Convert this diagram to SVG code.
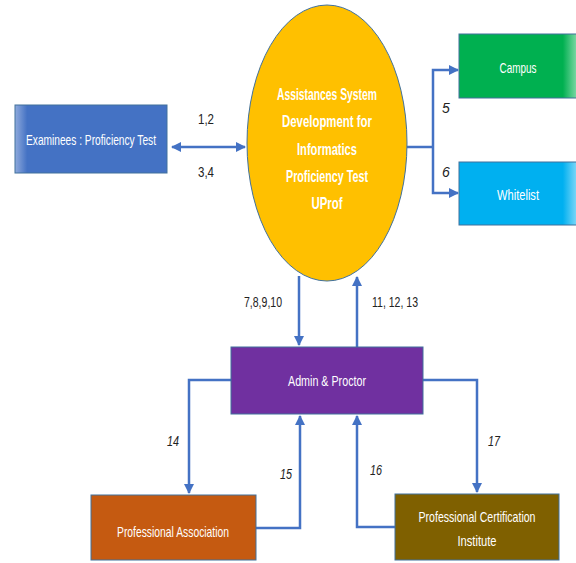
<svg xmlns="http://www.w3.org/2000/svg" width="576" height="563" viewBox="0 0 576 563">
<style>
.lbl{font-family:"Liberation Sans",Arial,sans-serif;font-size:15px;fill:#ffffff;text-anchor:middle}
.ttl{font-family:"Liberation Sans",Arial,sans-serif;font-size:17px;font-weight:bold;fill:#ffffff;text-anchor:middle}
.num{font-family:"Liberation Sans",Arial,sans-serif;font-size:14px;fill:#222222;text-anchor:middle}
.it{font-style:italic}
.con{fill:none;stroke:#4472C4;stroke-width:2.5}
.box{stroke:#41719C;stroke-width:1}
</style>
<defs>
<marker id="ah" viewBox="0 0 10 10" refX="9" refY="5" markerWidth="4" markerHeight="4" orient="auto-start-reverse" markerUnits="strokeWidth">
<path d="M0,0 L10,5 L0,10 z" fill="#4472C4"/>
</marker>
<linearGradient id="gBlue" x1="0" x2="1" y1="0" y2="0">
<stop offset="0" stop-color="#8FAADC"/><stop offset="0.08" stop-color="#4472C4"/><stop offset="1" stop-color="#4472C4"/>
</linearGradient>
<linearGradient id="gGreen" x1="0" x2="1" y1="0" y2="0">
<stop offset="0" stop-color="#00B050"/><stop offset="0.88" stop-color="#00B050"/><stop offset="1" stop-color="#7FD9A7"/>
</linearGradient>
<linearGradient id="gCyan" x1="0" x2="1" y1="0" y2="0">
<stop offset="0" stop-color="#00B0F0"/><stop offset="0.88" stop-color="#00B0F0"/><stop offset="1" stop-color="#7FD8F8"/>
</linearGradient>
</defs>
<rect width="576" height="563" fill="#ffffff"/>
<g id="connectors">
<line class="con" x1="172" y1="147" x2="245" y2="147" marker-start="url(#ah)" marker-end="url(#ah)"/>
<polyline class="con" points="407,147 433,147"/>
<polyline class="con" points="458,70 433,70 433,193 458,193" marker-start="url(#ah)" marker-end="url(#ah)"/>
<line class="con" x1="299" y1="276" x2="299" y2="345" marker-end="url(#ah)"/>
<line class="con" x1="357" y1="347" x2="357" y2="277" marker-end="url(#ah)"/>
<polyline class="con" points="231,380 189,380 189,493" marker-end="url(#ah)"/>
<polyline class="con" points="256,528 300,528 300,416" marker-end="url(#ah)"/>
<polyline class="con" points="395,527 357,527 357,416" marker-end="url(#ah)"/>
<polyline class="con" points="423,380 477,380 477,492" marker-end="url(#ah)"/>
<text class="num" x="206" y="124" textLength="16" lengthAdjust="spacingAndGlyphs">1,2</text>
<text class="num" x="206" y="177" textLength="16" lengthAdjust="spacingAndGlyphs">3,4</text>
<text class="num it" x="446" y="113">5</text>
<text class="num it" x="446" y="177">6</text>
<text class="num" x="263" y="307" textLength="38" lengthAdjust="spacingAndGlyphs">7,8,9,10</text>
<text class="num" x="395" y="307" textLength="46" lengthAdjust="spacingAndGlyphs">11, 12, 13</text>
<text class="num it" x="173" y="446" textLength="12" lengthAdjust="spacingAndGlyphs">14</text>
<text class="num it" x="286" y="479" textLength="12" lengthAdjust="spacingAndGlyphs">15</text>
<text class="num it" x="376" y="475" textLength="12" lengthAdjust="spacingAndGlyphs">16</text>
<text class="num it" x="494" y="446" textLength="12" lengthAdjust="spacingAndGlyphs">17</text>
</g>
<g id="examinees">
<rect class="box" x="15" y="105" width="152" height="68" fill="url(#gBlue)"/>
<text class="lbl" x="91" y="145" textLength="130" lengthAdjust="spacingAndGlyphs">Examinees : Proficiency Test</text>
</g>
<g id="system">
<ellipse cx="327" cy="143" rx="80" ry="138" fill="#FFC000" stroke="#41719C" stroke-width="1"/>
<text class="ttl" x="327" y="100" textLength="100" lengthAdjust="spacingAndGlyphs">Assistances System</text>
<text class="ttl" x="327" y="127" textLength="90" lengthAdjust="spacingAndGlyphs">Development for</text>
<text class="ttl" x="327" y="155" textLength="60" lengthAdjust="spacingAndGlyphs">Informatics</text>
<text class="ttl" x="327" y="182" textLength="82" lengthAdjust="spacingAndGlyphs">Proficiency Test</text>
<text class="ttl" x="327" y="209" textLength="31" lengthAdjust="spacingAndGlyphs">UProf</text>
</g>
<g id="campus">
<rect class="box" x="459" y="34" width="118" height="64" fill="url(#gGreen)"/>
<text class="lbl" x="518" y="73" textLength="37" lengthAdjust="spacingAndGlyphs">Campus</text>
</g>
<g id="whitelist">
<rect class="box" x="459" y="162" width="118" height="63" fill="url(#gCyan)"/>
<text class="lbl" x="518" y="200" textLength="42" lengthAdjust="spacingAndGlyphs">Whitelist</text>
</g>
<g id="admin">
<rect class="box" x="231" y="347" width="192" height="67" fill="#7030A0"/>
<text class="lbl" x="327" y="386" textLength="78" lengthAdjust="spacingAndGlyphs">Admin &amp; Proctor</text>
</g>
<g id="association">
<rect class="box" x="91" y="495" width="165" height="65" fill="#C55A11"/>
<text class="lbl" x="173" y="537" textLength="112" lengthAdjust="spacingAndGlyphs">Professional Association</text>
</g>
<g id="certification">
<rect class="box" x="395" y="494" width="164" height="66" fill="#7F6000"/>
<text class="lbl" x="477" y="522" font-size="12" textLength="117" lengthAdjust="spacingAndGlyphs">Professional Certification</text>
<text class="lbl" x="477" y="546" textLength="39" lengthAdjust="spacingAndGlyphs">Institute</text>
</g>
</svg>
